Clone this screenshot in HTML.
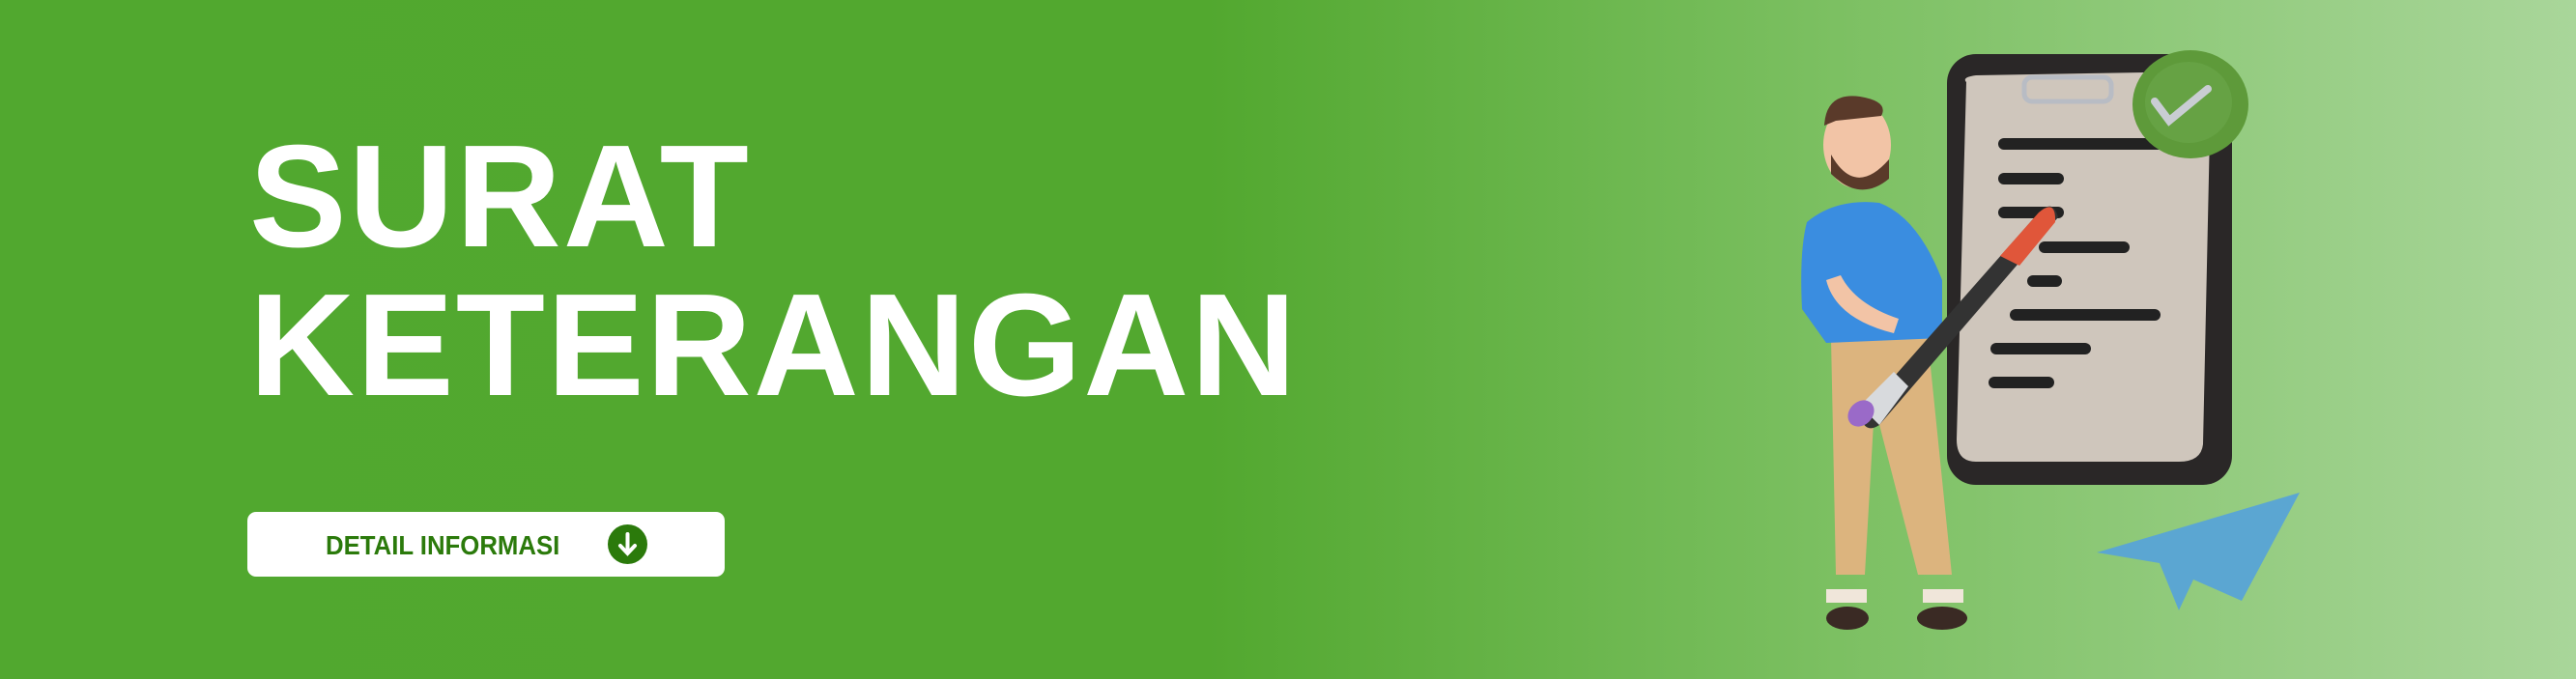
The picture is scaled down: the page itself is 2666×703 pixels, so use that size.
<!DOCTYPE html>
<html><head><meta charset="utf-8"><style>
html,body{margin:0;padding:0}
body{width:2666px;height:703px;overflow:hidden;position:relative;
background:linear-gradient(90deg,#51a82f 0px,#52a82f 1250px,#7cc062 1900px,#a9d69a 2666px);
font-family:"Liberation Sans",sans-serif}
.t{position:absolute;left:258px;color:#fff;font-weight:bold;font-size:151px;letter-spacing:2px;line-height:1;white-space:nowrap}
#btn{position:absolute;left:256px;top:530px;width:494px;height:67px;background:#fff;border-radius:9px}
#btn span{position:absolute;left:81px;top:19px;font-weight:bold;font-size:28px;color:#2b7a0b;letter-spacing:0px;transform:scaleX(0.92);transform-origin:left}
#ico{position:absolute;left:373px;top:13px;width:41px;height:41px;border-radius:50%;background:#2b7a0b}
</style></head><body>
<div class="t" style="top:127px">SURAT</div>
<div class="t" style="top:281px">KETERANGAN</div>
<div id="btn"><span>DETAIL INFORMASI</span>
<div id="ico"><svg width="41" height="41"><path d="M20.5 10 V29 M13 22 L20.5 30 L28 22" stroke="#fff" stroke-width="4" fill="none" stroke-linecap="round"/></svg></div></div>
<svg style="position:absolute;left:0;top:0" width="2666" height="703">
<g>
<rect x="2015" y="56" width="295" height="446" rx="30" fill="#2a2727"/>
<path d="M2035 85 Q2030 80 2045 78 L2280 74 Q2290 76 2288 90 L2280 460 Q2278 478 2255 478 L2045 478 Q2025 478 2025 455 Z" fill="#cfc6bc"/>
<rect x="2095" y="80" width="90" height="25" rx="8" fill="none" stroke="#b8bcc4" stroke-width="5"/>
<g fill="#222"><rect x="2068" y="143" width="180" height="12" rx="6"/><rect x="2068" y="179" width="68" height="12" rx="6"/><rect x="2068" y="214" width="68" height="12" rx="6"/><rect x="2110" y="250" width="94" height="12" rx="6"/><rect x="2098" y="285" width="36" height="12" rx="6"/><rect x="2080" y="320" width="156" height="12" rx="6"/><rect x="2060" y="355" width="104" height="12" rx="6"/><rect x="2058" y="390" width="68" height="12" rx="6"/></g>
<ellipse cx="2267" cy="108" rx="60" ry="56" fill="#5e9a3a"/><ellipse cx="2265" cy="106" rx="45" ry="42" fill="#66a244"/>
<path d="M2230 105 L2245 125 L2285 92" stroke="#c9cdd3" stroke-width="8" fill="none" stroke-linecap="round"/>
</g>
<g>
<path d="M1895 350 L1900 595 L1930 595 L1940 420 L1985 595 L2020 595 L1995 350 Z" fill="#dcb47e"/>
<ellipse cx="1912" cy="640" rx="22" ry="12" fill="#3a2a24"/><ellipse cx="2010" cy="640" rx="26" ry="12" fill="#3a2a24"/>
<rect x="1890" y="610" width="42" height="14" fill="#f0e6da"/><rect x="1990" y="610" width="42" height="14" fill="#f0e6da"/>
<path d="M1870 230 Q1900 205 1945 210 Q1985 225 2010 290 L2010 350 L1890 355 L1865 320 Q1862 260 1870 230 Z" fill="#3a8de0"/>
<ellipse cx="1922" cy="150" rx="35" ry="45" fill="#f2c4a6"/>
<path d="M1895 160 Q1920 205 1955 165 L1955 185 Q1925 210 1895 180 Z" fill="#5a3a2a"/>
<path d="M1888 130 Q1890 95 1925 100 Q1955 105 1947 120 L1900 125 Z" fill="#5a3a2a"/>
<path d="M1890 290 Q1900 330 1960 345 L1965 330 Q1920 315 1905 285 Z" fill="#f2c4a6"/>
</g>
<g>
<path d="M1925 430 L2110 220 Q2125 205 2130 225 L1945 440 Q1930 450 1925 430 Z" fill="#333"/>
<path d="M2070 265 L2110 220 Q2128 205 2127 230 L2090 275 Z" fill="#e0563a"/>
<path d="M1925 420 L1960 385 L1975 400 L1945 440 Z" fill="#d8dadd"/>
<ellipse cx="1926" cy="428" rx="12" ry="15" fill="#9a6ac8" transform="rotate(45 1926 428)"/>
</g>
<path d="M2170 572 L2380 510 L2320 622 L2270 600 L2255 632 L2235 583 Z" fill="#5ba6d2"/>
</svg>
</body></html>
